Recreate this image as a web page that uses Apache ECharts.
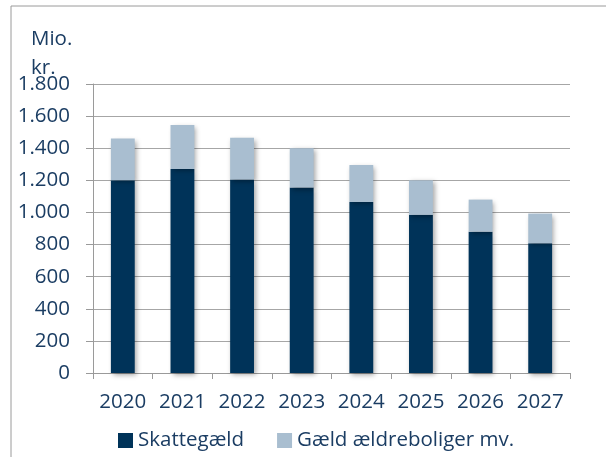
<!DOCTYPE html>
<html>
<head>
<meta charset="utf-8">
<script src="https://cdn.jsdelivr.net/npm/echarts@6/dist/echarts.min.js"></script>
<style>
  html, body { margin: 0; padding: 0; background: #fff; }
  #main { width: 606px; height: 457px; }
</style>
</head>
<body>
<div id="main"></div>
<script>
var years = ['2020', '2021', '2022', '2023', '2024', '2025', '2026', '2027'];
var skattegaeld = [1200, 1270, 1205, 1155, 1065, 985, 880, 808];
var aeldreboliger = [260, 275, 260, 245, 230, 215, 200, 185];
var seriesNames = ['Skattegæld', 'Gæld ældreboliger mv.'];

var textColor = '#1B3D63';
var font = '"Open Sans", "Noto Sans", sans-serif';
var fs = 20.5;

var myChart = echarts.init(document.getElementById('main'));

var barShadow = {
  shadowBlur: 5,
  shadowColor: 'rgba(0,0,0,0.35)',
  shadowOffsetX: 2,
  shadowOffsetY: 2
};

var option = {
  animation: false,
  backgroundColor: '#fff',
  textStyle: { fontFamily: font },
  grid: { left: 93, right: 36, top: 84, bottom: 84 },
  graphic: [
    // outer frame
    {
      type: 'polyline',
      shape: { points: [[11, 460], [11, 6], [610, 6]] },
      style: { stroke: '#9a9a9a', lineWidth: 1, fill: null }
    },
    {
      type: 'text', left: 31, top: 29,
      style: { text: 'Mio.', fill: textColor, font: fs + 'px ' + font }
    },
    {
      type: 'text', left: 31, top: 58,
      style: { text: 'kr.', fill: textColor, font: fs + 'px ' + font }
    }
  ],
  legend: {
    left: 113, top: 425,
    itemWidth: 15, itemHeight: 15, itemGap: 33,
    icon: 'rect',
    textStyle: { color: textColor, fontSize: fs, fontFamily: font },
    data: seriesNames
  },
  xAxis: {
    type: 'category',
    data: years,
    axisLine: { lineStyle: { color: '#9a9a9a' } },
    axisTick: { show: true, length: 6, lineStyle: { color: '#9a9a9a' } },
    axisLabel: { color: textColor, fontSize: fs, margin: 19, interval: 0, fontFamily: font }
  },
  yAxis: {
    type: 'value',
    min: 0, max: 1800, interval: 200,
    axisLine: { show: true, lineStyle: { color: '#9a9a9a' } },
    axisTick: { show: true, length: 7, lineStyle: { color: '#9a9a9a' } },
    axisLabel: {
      color: textColor, fontSize: fs, margin: 23, fontFamily: font,
      formatter: function (v) { return String(v).replace(/\B(?=(\d{3})+(?!\d))/g, '.'); }
    },
    splitLine: { lineStyle: { color: '#a6a6a6' } }
  },
  series: [
    {
      name: seriesNames[0], type: 'bar', stack: 'total',
      barWidth: '40%',
      itemStyle: Object.assign({ color: '#003359' }, barShadow),
      data: skattegaeld
    },
    {
      name: seriesNames[1], type: 'bar', stack: 'total',
      barWidth: '40%',
      itemStyle: Object.assign({ color: '#A9BED0' }, barShadow),
      data: aeldreboliger
    }
  ]
};
myChart.setOption(option);
</script>
</body>
</html>
